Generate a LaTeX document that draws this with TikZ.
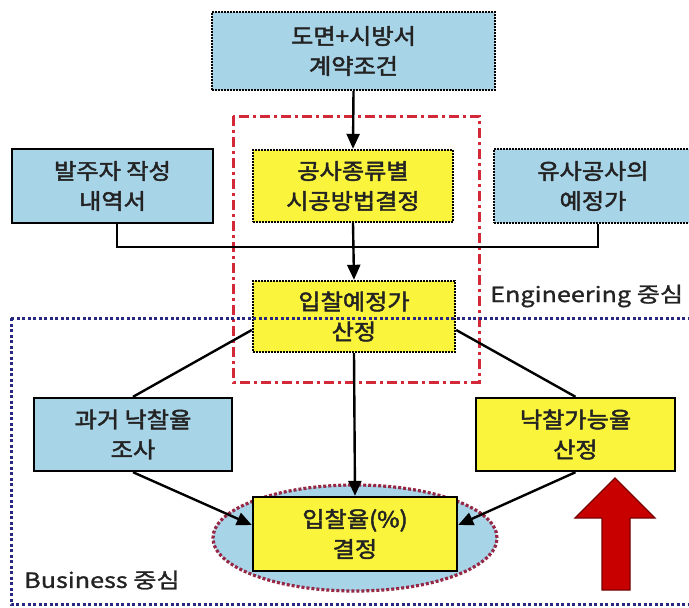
\documentclass[tikz,border=0pt]{standalone}
\usepackage{fontspec}
\setmainfont[FakeStretch=1.1,FakeBold=2.2]{Noto Sans CJK KR}
\newfontfamily\lblfont[FakeStretch=1.2,FakeBold=1.2]{Noto Sans CJK KR}
\usetikzlibrary{arrows.meta,calc,shapes.geometric}
\definecolor{lblue}{RGB}{168,212,232}
\definecolor{yfill}{RGB}{250,244,60}
\definecolor{rdash}{RGB}{210,40,55}
\definecolor{navy}{RGB}{40,40,130}
\definecolor{ellb}{RGB}{150,40,70}
\definecolor{bigred}{RGB}{200,0,0}
\definecolor{txt}{RGB}{35,35,35}
\begin{document}
\begin{tikzpicture}[x=1pt,y=-1pt,
  box/.style={draw=black, line width=2.4pt, align=center, inner sep=0pt, text=txt,
    font=\fontsize{22}{30}\selectfont, minimum height=72pt},
  dotb/.style={dash pattern=on 2pt off 1pt},
  blueb/.style={box, fill=lblue},
  yelb/.style={box, fill=yfill},
  conn/.style={line width=2.4pt},
  arr/.style={conn, -{Triangle[length=15pt,width=13pt]}},
  lbl/.style={font=\lblfont\fontsize{21}{24}\selectfont, text=txt, anchor=west, inner sep=0pt}
]
\useasboundingbox (0,0) rectangle (689,608);
\clip (0,0) rectangle (689,608);
\fill[white] (0,0) rectangle (689,608);

% red dash-dot frame
\draw[rdash, line width=3pt, dash pattern=on 10pt off 4pt on 3pt off 4pt] (233,116) rectangle (479,382);

% ellipse
\node[ellipse, draw=ellb, fill=lblue, line width=3.2pt, dash pattern=on 3pt off 2pt,
  minimum width=284pt, minimum height=106pt, inner sep=0pt] (ell) at (355,538) {};

% nodes
\node[blueb, dotb, minimum width=283pt, minimum height=78pt] (top) at (353.5,51) {도면+시방서\\계약조건};
\node[yelb, dotb, minimum width=200pt] (b2) at (353,186) {공사종류별\\시공방법결정};
\node[blueb, minimum width=201pt, minimum height=74pt] (bl) at (112.5,186) {발주자 작성\\내역서};
\node[blueb, dotb, minimum width=198pt, minimum height=74pt] (br) at (593,186) {유사공사의\\예정가};
\node[yelb, dotb, minimum width=202pt, minimum height=71pt] (b3) at (354,316.5) {입찰예정가\\산정};
\node[blueb, minimum width=198pt, minimum height=73pt] (ll) at (133,434.5) {과거 낙찰율\\조사};
\node[yelb, minimum width=199pt, minimum height=73pt] (rr) at (575.5,434.5) {낙찰가능율\\산정};
\node[yelb, minimum width=204pt, minimum height=74pt] (b4) at (355,534) {입찰율(\%)\\결정};

% connectors
\draw[arr] (top.south) -- (b2.north);
\coordinate (jl) at (117,247);
\coordinate (jr) at (598,247);
\draw[conn] (bl.south -| jl) -- (jl) -- (jr) -- (br.south -| jr);
\draw[arr] (b2.south) -- (b3.north);
\draw[conn] ($(b3.west)+(0,13.5)$) -- (ll.north);
\draw[conn] ($(b3.east)+(0,13.5)$) -- (rr.north);
\draw[arr] (b3.south) -- (b4.north);
\draw[arr] (ll.south) -- ($(b4.west)+(0,-9)$);
\draw[arr] (rr.south) -- ($(b4.east)+(0,-9)$);

% labels
\node[lbl] (eng) at (490,296) {Engineering 중심};
\node[lbl] (bus) at (24,580) {Business 중심};

% big red arrow
\draw[fill=bigred, draw=bigred!60!black, line width=1.2pt, line join=miter]
  (615,478) -- (655,518) -- (630,518) -- (630,590) -- (602,590) -- (602,518) -- (575,518) -- cycle;

% blue dotted frame (on top)
\draw[navy, line width=3pt, dash pattern=on 3pt off 2.5pt] (11,318) rectangle (700,604);
\end{tikzpicture}
\end{document}
